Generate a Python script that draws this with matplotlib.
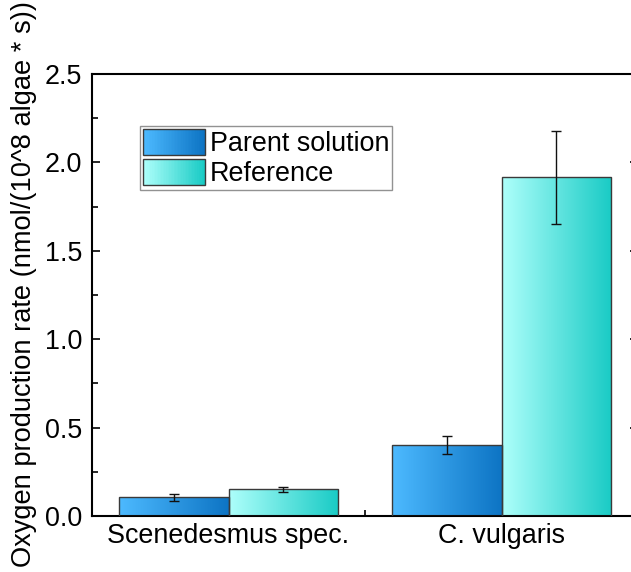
import numpy as np
import matplotlib
matplotlib.use("Agg")
import matplotlib.pyplot as plt
from matplotlib.colors import LinearSegmentedColormap
from matplotlib.legend_handler import HandlerBase
from matplotlib.patches import Rectangle

plt.rcParams["font.family"] = ["Liberation Sans", "DejaVu Sans"]

categories = ["Scenedesmus spec.", "C. vulgaris"]
series = ["Parent solution", "Reference"]
parent = [0.105, 0.40]
parent_err = [0.022, 0.05]
reference = [0.15, 1.915]
reference_err = [0.015, 0.265]
yticks = [0.0, 0.5, 1.0, 1.5, 2.0, 2.5]

cmaps = [
    LinearSegmentedColormap.from_list("blue", ["#4dbaff", "#0d74c4"]),
    LinearSegmentedColormap.from_list("cyan", ["#aefffb", "#19cbc5"]),
]
grad = np.linspace(0, 1, 256).reshape(1, -1)

fig = plt.figure(figsize=(6.31, 5.72), dpi=100)
ax = fig.add_axes([0.1458, 0.0979, 0.8653, 0.7727])

x = np.arange(len(categories))
w = 0.4
for i, (vals, errs) in enumerate([(parent, parent_err), (reference, reference_err)]):
    bars = ax.bar(x + (i - 0.5) * w, vals, w, facecolor="none", edgecolor="#3a3a3a",
                  linewidth=1.0, zorder=3)
    for b in bars:
        x0, y0 = b.get_x(), b.get_y()
        ax.imshow(grad, cmap=cmaps[i], aspect="auto", zorder=2,
                  extent=(x0, x0 + b.get_width(), y0, y0 + b.get_height()))
    ax.errorbar(x + (i - 0.5) * w, vals, yerr=errs, fmt="none", ecolor="#111111",
                elinewidth=1.0, capsize=3.5, capthick=1.0, zorder=4)

ax.set_xlim(-0.5, 1.5)
ax.set_ylim(0, 2.5)
ax.set_yticks(yticks)
ax.set_yticklabels([f"{v:.1f}" for v in yticks])
ax.set_yticks(np.arange(0.25, 2.5, 0.5), minor=True)
ax.set_xticks(x)
ax.set_xticklabels(categories)
ax.set_xticks([0.5], minor=True)

for s in ax.spines.values():
    s.set_linewidth(1.5)
ax.tick_params(which="both", direction="in", labelsize=19.4, width=1.2)
ax.tick_params(which="major", length=6, right=True, top=False)
ax.tick_params(which="minor", length=4, right=False, top=False)
ax.tick_params(axis="y", pad=7)
ax.tick_params(axis="x", pad=5)

ax.set_ylabel("Oxygen production rate (nmol/(10^8 algae * s))", fontsize=19.6)
ax.yaxis.set_label_coords(-0.10, 0.525)


class HandlerGradient(HandlerBase):
    def __init__(self, cmap):
        super().__init__()
        self.cmap = cmap

    def create_artists(self, legend, orig_handle, xdescent, ydescent, width, height,
                       fontsize, trans):
        n = 40
        arts = []
        for k in range(n):
            r = Rectangle((-xdescent + width * k / n, -ydescent), width / n + 0.3, height,
                          facecolor=self.cmap(k / (n - 1)), edgecolor="none", transform=trans)
            arts.append(r)
        arts.append(Rectangle((-xdescent, -ydescent), width, height, facecolor="none",
                              edgecolor="#3a3a3a", linewidth=1.0, transform=trans))
        return arts


h1 = Rectangle((0, 0), 1, 1)
h2 = Rectangle((0, 0), 1, 1)
leg = ax.legend([h1, h2], series, loc="upper left", bbox_to_anchor=(0.088, 0.882),
                fontsize=19.4, frameon=True, fancybox=False, edgecolor="#777777",
                handlelength=2.3, handleheight=1.1, labelspacing=0.08, handletextpad=0.2,
                borderpad=0.1, borderaxespad=0,
                handler_map={h1: HandlerGradient(cmaps[0]), h2: HandlerGradient(cmaps[1])})
leg.get_frame().set_linewidth(1.0)

fig.savefig("out.png", dpi=100)
